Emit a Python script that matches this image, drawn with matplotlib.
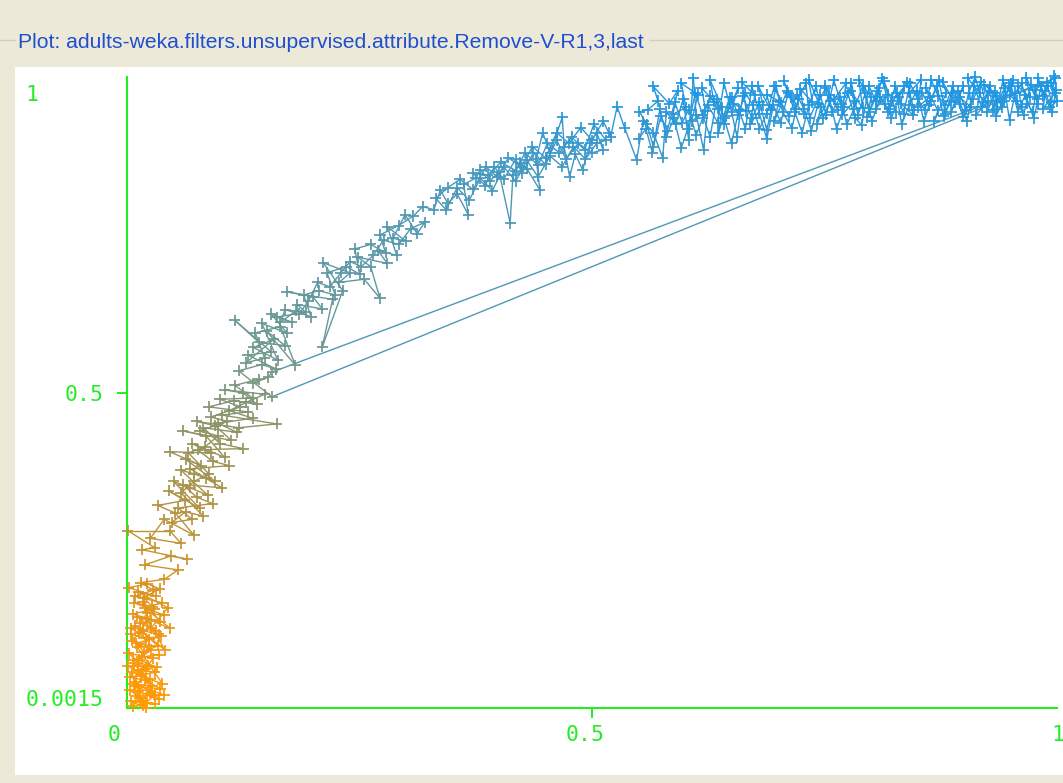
import numpy as np
import matplotlib
matplotlib.use("Agg")
import matplotlib.pyplot as plt
from matplotlib.collections import LineCollection
from matplotlib.colors import LinearSegmentedColormap, to_rgba
from matplotlib.patches import Rectangle
from matplotlib.lines import Line2D

# ---- data, (x, y) in plot order ----
path_low = [
    (0.006, 0.004), (0.014, 0.018), (0.003, 0.030), (0.022, 0.010), (0.010, 0.042),
    (0.030, 0.022), (0.017, 0.006), (0.005, 0.058), (0.025, 0.048), (0.012, 0.028),
    (0.034, 0.015), (0.008, 0.072), (0.020, 0.064), (0.002, 0.088), (0.028, 0.080),
    (0.015, 0.052), (0.038, 0.040), (0.011, 0.098), (0.024, 0.110), (0.004, 0.118),
    (0.018, 0.090), (0.033, 0.100), (0.009, 0.132), (0.041, 0.093), (0.021, 0.142),
    (0.013, 0.120), (0.029, 0.158), (0.006, 0.150), (0.036, 0.138), (0.017, 0.170),
    (0.026, 0.128), (0.044, 0.160), (0.012, 0.185), (0.031, 0.178), (0.002, 0.192),
    (0.022, 0.198),
]
path_low2 = [
    (0.035, 0.190), (0.018, 0.176), (0.027, 0.162), (0.008, 0.168), (0.040, 0.148),
    (0.022, 0.152), (0.014, 0.136), (0.031, 0.124), (0.004, 0.128), (0.020, 0.112),
    (0.037, 0.115), (0.010, 0.104), (0.026, 0.094), (0.016, 0.082), (0.034, 0.086),
    (0.006, 0.078), (0.023, 0.068), (0.012, 0.062), (0.030, 0.058), (0.003, 0.050),
    (0.019, 0.046), (0.036, 0.032), (0.009, 0.036), (0.025, 0.026), (0.014, 0.012),
    (0.030, 0.008), (0.004, 0.012), (0.020, 0.002), (0.010, 0.020), (0.040, 0.022),
]
path_low3 = [
    (0.007, 0.040), (0.027, 0.036), (0.016, 0.056), (0.001, 0.068), (0.032, 0.066),
    (0.013, 0.078), (0.024, 0.100), (0.005, 0.108), (0.017, 0.124), (0.034, 0.118),
    (0.011, 0.146), (0.026, 0.140), (0.046, 0.128), (0.019, 0.160), (0.038, 0.168),
    (0.009, 0.178), (0.028, 0.188), (0.015, 0.200),
]
path_mid1 = [
    (0.040, 0.205), (0.055, 0.220), (0.019, 0.228), (0.047, 0.242), (0.065, 0.237),
    (0.016, 0.252), (0.030, 0.255), (0.001, 0.282), (0.046, 0.282), (0.058, 0.262),
    (0.025, 0.270), (0.040, 0.300), (0.072, 0.275), (0.052, 0.310), (0.033, 0.322),
    (0.062, 0.330), (0.045, 0.345), (0.078, 0.318), (0.050, 0.360), (0.068, 0.350),
    (0.087, 0.338), (0.058, 0.378),
]
path_mid2 = [
    (0.072, 0.372), (0.095, 0.360), (0.063, 0.395), (0.080, 0.385), (0.046, 0.407),
    (0.090, 0.405), (0.070, 0.420), (0.105, 0.398), (0.085, 0.432), (0.060, 0.440),
    (0.112, 0.425), (0.095, 0.448), (0.075, 0.455), (0.120, 0.445), (0.161, 0.451),
    (0.102, 0.465), (0.130, 0.470), (0.088, 0.478), (0.115, 0.488), (0.140, 0.482),
    (0.125, 0.500), (0.105, 0.505), (0.148, 0.498),
]
path_mid_back = [
    (0.128, 0.485), (0.110, 0.472), (0.135, 0.460), (0.098, 0.452), (0.118, 0.438),
    (0.082, 0.445), (0.100, 0.420), (0.125, 0.412), (0.076, 0.410), (0.092, 0.392),
    (0.110, 0.385), (0.068, 0.380), (0.085, 0.365), (0.102, 0.350), (0.060, 0.355),
    (0.075, 0.335), (0.092, 0.325), (0.055, 0.318), (0.070, 0.300),
]
path_mid_up = [
    (0.048, 0.295), (0.063, 0.312), (0.082, 0.305), (0.058, 0.342), (0.072, 0.360),
    (0.088, 0.372), (0.066, 0.405), (0.084, 0.415), (0.098, 0.432), (0.078, 0.440),
    (0.108, 0.455), (0.090, 0.462), (0.122, 0.478), (0.100, 0.490), (0.135, 0.492),
    (0.116, 0.512), (0.142, 0.522),
]
path_mid3 = [
    (0.135, 0.515), (0.152, 0.525), (0.156, 0.533), (0.998, 0.998), (0.156, 0.494),
    (0.120, 0.535), (0.145, 0.545), (0.160, 0.538), (0.130, 0.560), (0.155, 0.565),
    (0.116, 0.615), (0.142, 0.580), (0.170, 0.575), (0.150, 0.598), (0.181, 0.544),
    (0.165, 0.605), (0.138, 0.595), (0.148, 0.555), (0.128, 0.548), (0.158, 0.585),
    (0.136, 0.572), (0.162, 0.552), (0.145, 0.610), (0.172, 0.595), (0.155, 0.625),
]
path_high1 = [
    (0.177, 0.612), (0.161, 0.620), (0.192, 0.628), (0.183, 0.640), (0.210, 0.633),
    (0.200, 0.652), (0.172, 0.660), (0.221, 0.648), (0.210, 0.573), (0.232, 0.662),
    (0.211, 0.706), (0.240, 0.690), (0.228, 0.675), (0.255, 0.680), (0.272, 0.650),
    (0.262, 0.700), (0.248, 0.715), (0.280, 0.705), (0.270, 0.725), (0.290, 0.718),
    (0.280, 0.763), (0.300, 0.740), (0.286, 0.745), (0.299, 0.782), (0.312, 0.752),
    (0.320, 0.770),
]
path_high_back = [
    (0.305, 0.760), (0.292, 0.735), (0.276, 0.742), (0.265, 0.718), (0.252, 0.700),
    (0.240, 0.708), (0.230, 0.690), (0.218, 0.668), (0.205, 0.675), (0.195, 0.645),
    (0.185, 0.625), (0.170, 0.632), (0.165, 0.612),
]
path_high_up = [
    (0.182, 0.630), (0.198, 0.620), (0.190, 0.655), (0.206, 0.662), (0.224, 0.655),
    (0.215, 0.690), (0.236, 0.700), (0.250, 0.688), (0.245, 0.728), (0.262, 0.735),
    (0.278, 0.722), (0.272, 0.750), (0.292, 0.765), (0.308, 0.780), (0.318, 0.795),
]
path_high2 = [
    (0.330, 0.790), (0.337, 0.821), (0.345, 0.800), (0.355, 0.815), (0.367, 0.782),
    (0.362, 0.830), (0.375, 0.840), (0.380, 0.853), (0.390, 0.835), (0.400, 0.850),
    (0.412, 0.769), (0.415, 0.845), (0.423, 0.864), (0.430, 0.855), (0.444, 0.821),
    (0.440, 0.870), (0.447, 0.912), (0.455, 0.880), (0.468, 0.936), (0.470, 0.890),
    (0.476, 0.842), (0.482, 0.878), (0.490, 0.853), (0.498, 0.895), (0.505, 0.912),
    (0.512, 0.885),
]
path_high2_back = [
    (0.500, 0.880), (0.485, 0.895), (0.472, 0.870), (0.462, 0.900), (0.450, 0.862),
    (0.437, 0.880), (0.425, 0.848), (0.418, 0.870), (0.405, 0.838), (0.395, 0.858),
    (0.385, 0.828), (0.372, 0.848),
]
path_high2_up = [
    (0.388, 0.845), (0.402, 0.865), (0.418, 0.852), (0.428, 0.880), (0.442, 0.860),
    (0.452, 0.895), (0.465, 0.880), (0.478, 0.905), (0.492, 0.885), (0.502, 0.925),
    (0.515, 0.900),
]
path_high3_back = [
    (0.505, 0.895), (0.493, 0.870), (0.480, 0.890), (0.468, 0.858), (0.455, 0.875),
    (0.442, 0.842), (0.430, 0.868), (0.418, 0.835), (0.405, 0.858), (0.393, 0.820),
    (0.380, 0.840), (0.368, 0.805), (0.355, 0.825), (0.343, 0.790), (0.332, 0.808),
]
path_high3_up = [
    (0.345, 0.825), (0.358, 0.838), (0.372, 0.822), (0.386, 0.858), (0.398, 0.842),
    (0.410, 0.872), (0.424, 0.858), (0.436, 0.890), (0.450, 0.872), (0.462, 0.912),
    (0.475, 0.895), (0.488, 0.920), (0.500, 0.900), (0.512, 0.930), (0.518, 0.912),
]
path_top1 = [
    (0.520, 0.905), (0.527, 0.953), (0.535, 0.920), (0.548, 0.869), (0.555, 0.930),
    (0.566, 0.912), (0.576, 0.872), (0.580, 0.945), (0.590, 0.925), (0.598, 0.965),
    (0.604, 0.900), (0.609, 0.998), (0.612, 0.940), (0.620, 0.885), (0.625, 0.955),
    (0.635, 0.928), (0.642, 0.990), (0.650, 0.945), (0.656, 0.905), (0.662, 0.970),
    (0.672, 0.935), (0.680, 0.960), (0.688, 0.916), (0.698, 0.985), (0.705, 0.945),
    (0.715, 0.919), (0.722, 0.965), (0.730, 0.990), (0.734, 0.935), (0.745, 0.972),
]
path_top2 = [
    (0.752, 0.940), (0.760, 0.995), (0.768, 0.958), (0.775, 0.975), (0.783, 0.935),
    (0.790, 0.924), (0.798, 0.985), (0.805, 0.962), (0.812, 0.998), (0.820, 0.950),
    (0.828, 0.975), (0.835, 0.942), (0.842, 0.990), (0.850, 0.965), (0.858, 0.948),
    (0.865, 0.995), (0.872, 0.970), (0.880, 0.955), (0.888, 0.985), (0.899, 0.937),
    (0.905, 0.975), (0.912, 1.000), (0.920, 0.960), (0.928, 0.985), (0.935, 0.950),
    (0.942, 0.995), (0.949, 0.932), (0.955, 0.975), (0.962, 0.990), (0.968, 0.958),
    (0.974, 0.945), (0.980, 0.998), (0.985, 0.970), (0.990, 0.985), (0.994, 0.960),
    (0.997, 1.002), (0.999, 0.980),
]
path_top_back = [
    (0.995, 0.945), (0.987, 0.978), (0.979, 0.965), (0.972, 0.988), (0.964, 0.940),
    (0.957, 0.962), (0.948, 0.985), (0.941, 0.952), (0.933, 0.975), (0.925, 0.945),
    (0.918, 0.992), (0.910, 0.965), (0.902, 0.948), (0.894, 0.978), (0.886, 0.962),
    (0.878, 0.938), (0.871, 0.985), (0.862, 0.955), (0.855, 0.975), (0.846, 0.948),
    (0.839, 0.992), (0.830, 0.968), (0.822, 0.935), (0.815, 0.958), (0.806, 0.978),
    (0.798, 0.945), (0.791, 0.985), (0.782, 0.950), (0.774, 0.925), (0.767, 0.968),
    (0.758, 0.945), (0.751, 0.982), (0.743, 0.958), (0.736, 0.915), (0.728, 0.950),
    (0.720, 0.972), (0.712, 0.938), (0.703, 0.960), (0.696, 0.985), (0.688, 0.942),
    (0.680, 0.918), (0.673, 0.955), (0.665, 0.975), (0.657, 0.940), (0.650, 0.968),
    (0.642, 0.925), (0.635, 0.950), (0.627, 0.970), (0.619, 0.935), (0.612, 0.908),
    (0.604, 0.948), (0.597, 0.928), (0.589, 0.960), (0.581, 0.915), (0.574, 0.938),
    (0.566, 0.890), (0.559, 0.925), (0.551, 0.945),
]
path_top3 = [
    (0.560, 0.948), (0.571, 0.962), (0.566, 0.985), (0.583, 0.958), (0.592, 0.978),
    (0.587, 0.941), (0.601, 0.952), (0.596, 0.990), (0.614, 0.972), (0.607, 0.930),
    (0.622, 0.946), (0.618, 0.983), (0.631, 0.961), (0.627, 0.995), (0.640, 0.952),
    (0.636, 0.912), (0.648, 0.968), (0.644, 0.938), (0.657, 0.982), (0.652, 0.958),
    (0.666, 0.946), (0.661, 0.992), (0.675, 0.971), (0.670, 0.925), (0.684, 0.955),
    (0.679, 0.985), (0.692, 0.948), (0.688, 0.972), (0.701, 0.962), (0.696, 0.930),
    (0.710, 0.978), (0.706, 0.994), (0.719, 0.950), (0.714, 0.968), (0.728, 0.942),
    (0.724, 0.981), (0.737, 0.960), (0.733, 0.996), (0.746, 0.952), (0.742, 0.925),
    (0.755, 0.972), (0.751, 0.986), (0.764, 0.948), (0.760, 0.965), (0.773, 0.990),
    (0.769, 0.940), (0.782, 0.962), (0.778, 0.978), (0.791, 0.951), (0.787, 0.995),
    (0.800, 0.968), (0.796, 0.936), (0.809, 0.982), (0.805, 0.950), (0.818, 0.972),
    (0.814, 0.993), (0.827, 0.945), (0.823, 0.962), (0.836, 0.985), (0.832, 0.958),
    (0.845, 0.940), (0.841, 0.975), (0.854, 0.996), (0.850, 0.952), (0.863, 0.968),
    (0.859, 0.983), (0.872, 0.947), (0.868, 0.930), (0.881, 0.975), (0.877, 0.992),
    (0.890, 0.960), (0.886, 0.944), (0.899, 0.985), (0.895, 0.968), (0.908, 0.952),
    (0.904, 0.998), (0.917, 0.975), (0.913, 0.940), (0.926, 0.962), (0.922, 0.988),
    (0.935, 0.970), (0.931, 0.948), (0.944, 0.983), (0.940, 0.960), (0.953, 0.995),
    (0.949, 0.972), (0.962, 0.952), (0.958, 0.985), (0.971, 0.968), (0.967, 0.999),
    (0.980, 0.958), (0.976, 0.980), (0.989, 0.992), (0.985, 0.950), (0.998, 0.975),
    (0.994, 0.990), (1.000, 0.962),
]
path_top4 = [
    (0.992, 0.952), (0.983, 0.985), (0.975, 0.935), (0.966, 0.972), (0.958, 0.945),
    (0.950, 0.990), (0.943, 0.962), (0.934, 0.938), (0.927, 0.978), (0.919, 0.952),
    (0.911, 0.985), (0.903, 0.930), (0.896, 0.958), (0.887, 0.975), (0.880, 0.942),
    (0.873, 0.995), (0.864, 0.962), (0.857, 0.930), (0.849, 0.978), (0.841, 0.955),
    (0.833, 0.925), (0.826, 0.985), (0.818, 0.945), (0.810, 0.968), (0.801, 0.930),
    (0.794, 0.975), (0.786, 0.940), (0.779, 0.990), (0.771, 0.952), (0.763, 0.918),
    (0.756, 0.962), (0.748, 0.935), (0.741, 0.985), (0.733, 0.955), (0.726, 0.912),
    (0.718, 0.945), (0.711, 0.975), (0.703, 0.928), (0.695, 0.955), (0.688, 0.902),
    (0.680, 0.942), (0.672, 0.985), (0.665, 0.918), (0.658, 0.948), (0.650, 0.895),
    (0.642, 0.935), (0.634, 0.965), (0.627, 0.905), (0.619, 0.940), (0.611, 0.975),
    (0.603, 0.918), (0.596, 0.888), (0.588, 0.935), (0.580, 0.905), (0.573, 0.950),
    (0.565, 0.880), (0.558, 0.918), (0.550, 0.902),
]

title = "Plot: adults-weka.filters.unsupervised.attribute.Remove-V-R1,3,last"
y_tick_labels = ["1", "0.5", "0.0015"]
x_tick_labels = ["0", "0.5", "1"]

pts = np.array(path_low + path_low2 + path_low3 + path_mid1 + path_mid2 +
               path_mid_back + path_mid_up + path_mid3 + path_high1 +
               path_high_back + path_high_up + path_high2 + path_high2_back +
               path_high2_up + path_high3_back + path_high3_up + path_top1 +
               path_top2 + path_top_back + path_top3 + path_top4)
x, y = pts[:, 0], pts[:, 1]

# ---- figure / panel ----
W, H = 1063, 783
BEIGE = "#ece9d8"
GREEN = "#22ee22"

def fx(px):
    return px / W

def fy(py):
    return 1 - py / H

fig = plt.figure(figsize=(W / 100, H / 100), dpi=100, facecolor=BEIGE)
fig.patches.append(Rectangle((fx(15), fy(775)), fx(1048), 708 / H,
                             transform=fig.transFigure, facecolor="white",
                             edgecolor="none", zorder=-5))
for x0, x1 in [(0, 15), (650, W)]:
    fig.add_artist(Line2D([fx(x0), fx(x1)], [fy(40), fy(40)], color="#d0d0bf",
                          lw=1.0, transform=fig.transFigure, zorder=-4))
fig.text(fx(18), fy(42), title, color="#1f4fd0", fontsize=15.2,
         family="Liberation Sans", ha="left", va="center")

ax = fig.add_axes([fx(127), fy(708), 930 / W, 631 / H])
ax.set_zorder(5)
ax.set_facecolor("none")
ax.set_xlim(0, 1)
ax.set_ylim(0.0015, 1.0)

cmap = LinearSegmentedColormap.from_list("weka", [
    (0.0, "#ff9900"), (0.1, "#f49712"), (0.2, "#d69426"), (0.35, "#a8934a"),
    (0.45, "#8d9468"), (0.55, "#72988c"), (0.7, "#5c98a6"), (0.85, "#4698c0"),
    (1.0, "#1896e8")])
pt_col = cmap(np.clip(y, 0, 1))

segs = np.stack([pts[:-1], pts[1:]], axis=1)
seg_col = cmap(np.clip((y[:-1] + y[1:]) / 2, 0, 1))
jump = np.abs(x[1:] - x[:-1]) > 0.5
seg_col[jump] = to_rgba("#4f98b4")
ax.add_collection(LineCollection(segs, colors=seg_col, linewidths=1.0,
                                 zorder=2, clip_on=False))
ax.scatter(x, y, marker="+", s=64, c=pt_col, linewidths=1.25, zorder=3,
           clip_on=False)

for side in ["top", "right"]:
    ax.spines[side].set_visible(False)
for side in ["left", "bottom"]:
    ax.spines[side].set_color(GREEN)
    ax.spines[side].set_linewidth(1.5)
ax.set_xticks([0.5])
ax.set_yticks([0.5])
ax.set_xticklabels([])
ax.set_yticklabels([])
ax.tick_params(axis="both", direction="out", color=GREEN, length=7.5, width=1.4)

mono = dict(family="DejaVu Sans Mono", fontsize=15.5, color=GREEN)
fig.text(fx(25), fy(95), y_tick_labels[0], ha="left", va="center", **mono)
fig.text(fx(104), fy(395), y_tick_labels[1], ha="right", va="center", **mono)
fig.text(fx(104), fy(700), y_tick_labels[2], ha="right", va="center", **mono)
fig.text(fx(114), fy(735), x_tick_labels[0], ha="center", va="center", **mono)
fig.text(fx(585), fy(735), x_tick_labels[1], ha="center", va="center", **mono)
fig.text(fx(1051), fy(735), x_tick_labels[2], ha="left", va="center", **mono)

fig.savefig("out.png", dpi=100, facecolor=BEIGE)
